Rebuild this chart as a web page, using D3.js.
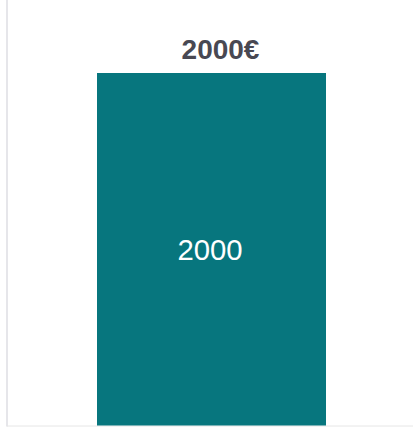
<!DOCTYPE html>
<html>
<head>
<meta charset="utf-8">
<script src="https://cdn.jsdelivr.net/npm/d3@7"></script>
<style>
  html, body { margin: 0; padding: 0; background: #fff; }
  svg { display: block; }
</style>
</head>
<body>
<script>
const categories = ["Total"];
const values = [2000];
const topLabels = ["2000€"];
const innerLabels = ["2000"];

const W = 413, H = 427;
const svg = d3.select("body").append("svg").attr("width", W).attr("height", H);

const x = d3.scaleBand().domain(categories).range([9, 414]).paddingInner(0.2776).paddingOuter(0.2776);
const y = d3.scaleLinear().domain([0, d3.max(values)]).range([425.5, 73]);

// axes lines
svg.append("line").attr("x1", 7).attr("x2", 7).attr("y1", 0).attr("y2", 426.5)
  .attr("stroke", "#e6e6ea").attr("stroke-width", 2);
svg.append("line").attr("x1", 7).attr("x2", 413).attr("y1", 426).attr("y2", 426)
  .attr("stroke", "#e6e6e6").attr("stroke-width", 1);

svg.selectAll("rect.bar").data(values).join("rect")
  .attr("class", "bar")
  .attr("x", (d, i) => x(categories[i]))
  .attr("width", x.bandwidth())
  .attr("y", d => y(d))
  .attr("height", d => y(0) - y(d))
  .attr("fill", "#07767e");

svg.selectAll("text.top").data(values).join("text")
  .attr("class", "top")
  .attr("x", (d, i) => x(categories[i]) + x.bandwidth() / 2 + 9)
  .attr("y", d => y(d) - 14)
  .attr("text-anchor", "middle")
  .attr("font-family", "Liberation Sans, Arial, sans-serif")
  .attr("font-weight", "bold")
  .attr("font-size", 28)
  .attr("fill", "#484852")
  .text((d, i) => topLabels[i]);

svg.selectAll("text.inner").data(values).join("text")
  .attr("class", "inner")
  .attr("x", (d, i) => x(categories[i]) + x.bandwidth() / 2 - 1.5)
  .attr("y", d => (y(d) + y(0)) / 2 + 10.8)
  .attr("text-anchor", "middle")
  .attr("font-family", "Liberation Sans, Arial, sans-serif")
  .attr("font-size", 29.3)
  .attr("fill", "#ffffff")
  .text((d, i) => innerLabels[i]);
</script>
</body>
</html>
